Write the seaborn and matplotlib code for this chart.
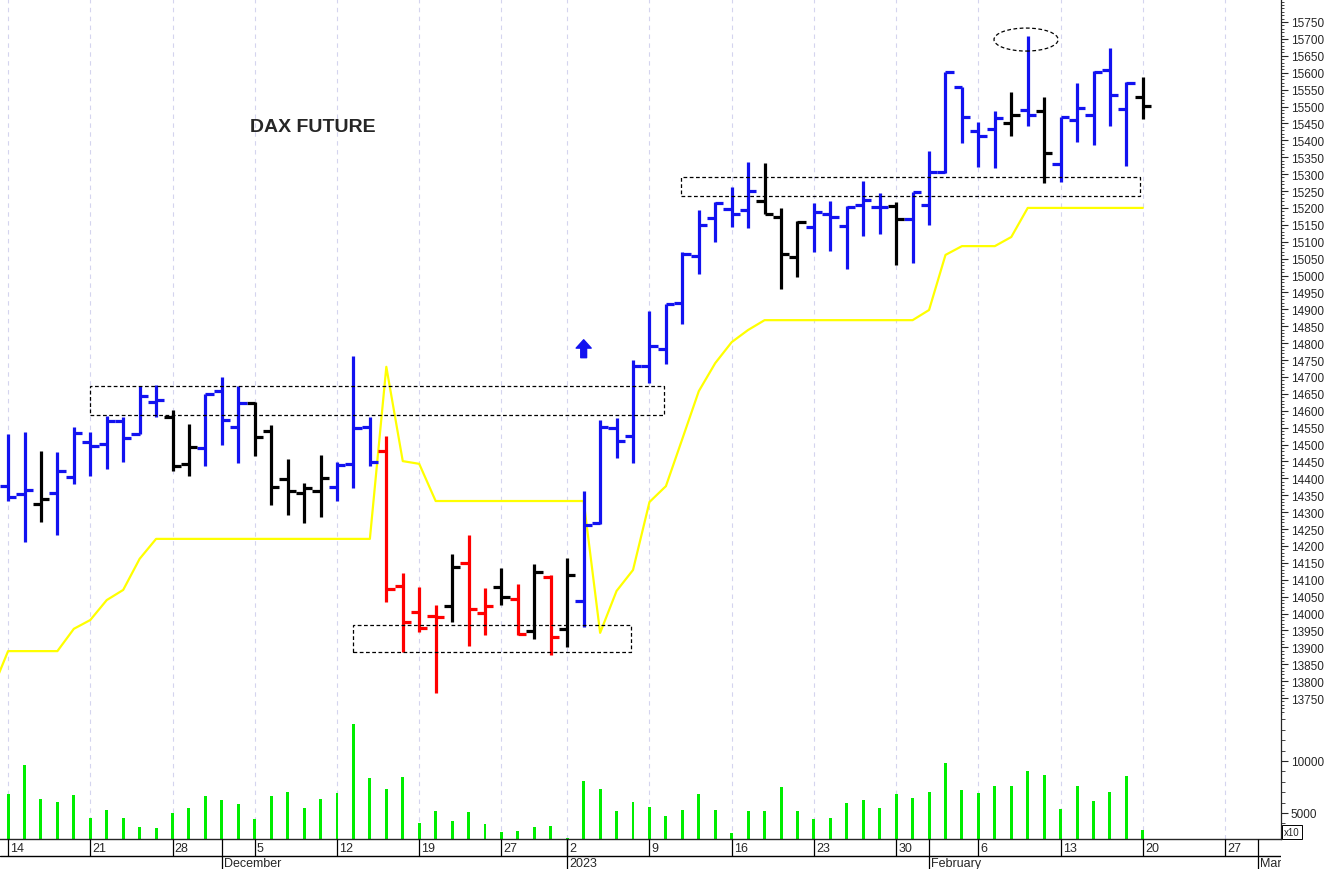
import numpy as np
import pandas as pd
import matplotlib
matplotlib.use("Agg")
import matplotlib.pyplot as plt
import seaborn as sns
from matplotlib.patches import Rectangle, Ellipse
from matplotlib.ticker import FixedLocator

# ------------------------------------------------------------
# Data (DAX future, daily bars 14 Nov 2022 - 20 Feb 2023)
# ------------------------------------------------------------
opens = [14377, 14354, 14324, 14357, 14404, 14508, 14502, 14570, 14531, 14626,
         14582, 14443, 14490, 14658, 14552, 14623, 14540, 14398, 14357, 14363,
         14374, 14443, 14552, 14481, 14082, 14005, 13993, 14022, 14150, 14002,
         14079, 14043, 13949, 14108, 13955, 14037, 14268, 14549, 14525, 14732,
         14783, 14919, 15058, 15170, 15197, 15194, 15220, 15173, 15055, 15144,
         15182, 15147, 15209, 15203, 15206, 15167, 15209, 15306, 15558, 15428,
         15433, 15451, 15490, 15487, 15330, 15460, 15475, 15608, 15493, 15528]
highs = [14531, 14537, 14481, 14478, 14552, 14537, 14584, 14582, 14673, 14676,
         14602, 14561, 14650, 14700, 14673, 14626, 14558, 14457, 14386, 14469,
         14448, 14762, 14582, 14525, 14120, 14079, 14025, 14176, 14232, 14076,
         14135, 14088, 14147, 14114, 14165, 14363, 14573, 14579, 14750, 14895,
         14916, 15070, 15194, 15217, 15262, 15336, 15333, 15200, 15161, 15215,
         15220, 15206, 15280, 15244, 15217, 15247, 15368, 15602, 15558, 15454,
         15487, 15543, 15709, 15528, 15469, 15570, 15605, 15673, 15573, 15587]
lows = [14333, 14212, 14271, 14232, 14383, 14407, 14428, 14448, 14531, 14582,
        14422, 14407, 14437, 14499, 14446, 14466, 14321, 14292, 14268, 14286,
        14333, 14372, 14437, 14034, 13886, 13946, 13765, 13975, 13904, 13937,
        14025, 13937, 13925, 13878, 13901, 13960, 14265, 14460, 14446, 14682,
        14738, 14857, 15004, 15099, 15144, 15141, 15182, 14960, 14996, 15070,
        15073, 15019, 15117, 15123, 15031, 15037, 15150, 15303, 15392, 15321,
        15318, 15413, 15442, 15274, 15277, 15395, 15386, 15442, 15324, 15463]
closes = [14345, 14366, 14339, 14422, 14534, 14496, 14570, 14519, 14644, 14632,
          14437, 14493, 14650, 14573, 14623, 14522, 14374, 14363, 14372, 14401,
          14440, 14549, 14448, 14073, 13975, 13957, 13990, 14138, 14014, 14022,
          14049, 13940, 14123, 13931, 14114, 14262, 14552, 14511, 14732, 14792,
          14916, 15064, 15150, 15215, 15182, 15250, 15182, 15064, 15158, 15188,
          15173, 15203, 15223, 15203, 15167, 15247, 15306, 15602, 15469, 15413,
          15466, 15475, 15475, 15362, 15469, 15496, 15602, 15534, 15570, 15502]
# trend colour of each bar: b = up, k = neutral, r = down
trend = list("bbkbbbbbbb" "kkbbbkkkkk" "bbbrrrrkrr" "krkrkbbbbb" "bbbbbbkkkb"
             "bbbbkbbbbb" "bkbkbbbbbk")
# volume (x10 contracts)
volume = [6830, 9600, 6350, 6060, 6730, 4520, 5290, 4520, 3650, 3560,
          5000, 5480, 6630, 6250, 5870, 4420, 6630, 7020, 5480, 6350,
          6920, 13560, 8370, 7310, 8460, 4040, 5190, 4230, 5100, 3940,
          3170, 3270, 3650, 3750, 2600, 8080, 7310, 5190, 6060, 5580,
          4710, 5290, 6830, 5290, 3080, 5190, 5190, 7500, 5190, 4420,
          4520, 5960, 6250, 5480, 6830, 6440, 7020, 9810, 7210, 6920,
          7600, 7600, 9040, 8650, 5380, 7600, 6150, 7020, 8560, 3370]
# trailing stop line (starts one session earlier, 11 Nov)
stop = [13770, 13889, 13889, 13889, 13889, 13955, 13981, 14040, 14070, 14162,
        14221, 14221, 14221, 14221, 14221, 14221, 14221, 14221, 14221, 14221,
        14221, 14221, 14221, 14221, 14730, 14451, 14443, 14333, 14333, 14333,
        14333, 14333, 14333, 14333, 14333, 14333, 14333, 13943, 14067, 14129,
        14330, 14377, 14517, 14658, 14741, 14803, 14839, 14868, 14868, 14868,
        14868, 14868, 14868, 14868, 14868, 14868, 14868, 14898, 15061, 15087,
        15087, 15087, 15114, 15200, 15200, 15200, 15200, 15200, 15200, 15200,
        15200]

# trading calendar (26 Dec closed)
days = pd.bdate_range("2022-11-11", "2023-03-03")
days = days[~days.isin(pd.to_datetime(["2022-12-26"]))]
pos = np.arange(len(days)) - 1          # 14 Nov -> 0
bar_x = pos[1:1 + len(opens)]
stop_x = pos[:len(stop)]

# annotation zones: (first bar, last bar, low, high)
zones = [(5.0, 39.9, 14588, 14673),
         (21.0, 37.9, 13886, 13966),
         (40.9, 68.8, 15235, 15291)]

# ------------------------------------------------------------
# Style
# ------------------------------------------------------------
sns.set_style("white")
plt.rcParams["font.family"] = ["Liberation Sans", "DejaVu Sans"]

BLUE, RED, BLACK = "#1212f0", "#ff0000", "#000000"
cmap = {"b": BLUE, "r": RED, "k": BLACK}
bar_cols = [cmap[t] for t in trend]
GRID = "#d4d4ee"

W, H = 1328, 870
fig = plt.figure(figsize=(W / 100, H / 100), dpi=100)
right = 1281 / W
ax = fig.add_axes([0, 1 - 715 / H, right, 715 / H])
axv = fig.add_axes([0, 30 / H, right, 125 / H])
axs = fig.add_axes([0, 0, right, 30 / H])

xlim = (-0.49, 77.4)

# week / month ticks
week = days.to_period("W")
first_of_week = np.r_[True, week[1:] != week[:-1]] & (pos >= 0)
month_start = np.r_[False, days.month[1:] != days.month[:-1]]

# ------------------------------------------------------------
# Price panel
# ------------------------------------------------------------
for xw in pos[first_of_week]:
    ax.axvline(xw, color=GRID, lw=0.8, ls=(0, (4, 4)), zorder=0)
    axv.axvline(xw, color=GRID, lw=0.8, ls=(0, (4, 4)), zorder=0)

sns.lineplot(x=stop_x, y=stop, ax=ax, color="#ffff00", lw=1.6, zorder=2)

ax.vlines(bar_x, lows, highs, colors=bar_cols, lw=2.3, zorder=3)
ax.hlines(opens, bar_x - 0.5, bar_x, colors=bar_cols, lw=2.3, zorder=3)
ax.hlines(closes, bar_x, bar_x + 0.5, colors=bar_cols, lw=2.3, zorder=3)

for x0, x1, y0, y1 in zones:
    ax.add_patch(Rectangle((x0, y0), x1 - x0, y1 - y0, fill=False,
                           ec="black", lw=0.9, ls=(0, (3, 2)), zorder=4))
ax.add_patch(Ellipse((61.9, 15698), 3.9, 68, fill=False, ec="black",
                     lw=0.9, ls=(0, (3, 2)), zorder=4))

ax.annotate("", xy=(35, 14810), xytext=(35, 14757),
            arrowprops=dict(arrowstyle="simple,head_length=0.5,head_width=0.9,tail_width=0.35",
                            color=BLUE, shrinkA=0, shrinkB=0, mutation_scale=12))

ax.text(250 / 1281, 1 - 128 / 715, "DAX FUTURE", transform=ax.transAxes,
        fontsize=14, fontweight="bold", ha="left", va="center")

ax.set_xlim(*xlim)
ax.set_ylim(13703, 15818)
ax.yaxis.tick_right()
ax.yaxis.set_major_locator(FixedLocator(np.arange(13750, 15751, 50)))
ax.yaxis.set_minor_locator(FixedLocator(np.arange(13710, 15820, 10)))
ax.tick_params(axis="y", which="major", length=5, width=0.8, direction="out",
               labelsize=8.5, pad=2, right=True, left=False)
ax.tick_params(axis="y", which="minor", length=2.5, width=0.6, direction="out",
               right=True, left=False)
ax.set_xticks([])
ax.set_xlabel("")
ax.set_ylabel("")
for s in ["left", "top", "bottom"]:
    ax.spines[s].set_visible(False)
ax.spines["right"].set_linewidth(0.9)

# ------------------------------------------------------------
# Volume panel
# ------------------------------------------------------------
sns.barplot(x=bar_x, y=volume, native_scale=True, width=0.18, color="#00ee00",
            saturation=1, errorbar=None, linewidth=0, ax=axv)
axv.set_xlim(*xlim)
axv.set_ylim(2500, 14519)
axv.yaxis.tick_right()
axv.yaxis.set_major_locator(FixedLocator([5000, 10000]))
axv.yaxis.set_minor_locator(FixedLocator(np.arange(3000, 14001, 1000)))
axv.tick_params(axis="y", which="major", length=5, width=0.8, direction="out",
                labelsize=8.5, pad=2, right=True, left=False)
axv.tick_params(axis="y", which="minor", length=3, width=0.6, direction="out",
                right=True, left=False)
axv.set_xticks([])
axv.set_xlabel("")
axv.set_ylabel("")
for s in ["left", "top"]:
    axv.spines[s].set_visible(False)
axv.spines["right"].set_linewidth(0.9)
axv.spines["bottom"].set_linewidth(1.0)

fig.text(1284 / W, 1 - 833 / H, "x10", fontsize=7, ha="left", va="center",
         bbox=dict(boxstyle="square,pad=0.2", fc="white", ec="black", lw=0.7))

# ------------------------------------------------------------
# Date strip
# ------------------------------------------------------------
axs.set_xlim(*xlim)
axs.set_ylim(0, 1)
axs.axis("off")
axs.axhline(0.433, color="black", lw=1.0)
for xw, d in zip(pos[first_of_week], days[first_of_week]):
    axs.vlines(xw, 0.433, 1, color="black", lw=0.9)
    axs.text(xw + 0.12, 0.71, str(d.day), fontsize=9, ha="left", va="center",
             clip_on=True)
for xm, d in zip(pos[month_start], days[month_start]):
    label = str(d.year) if d.month == 1 else d.strftime("%B")
    axs.vlines(xm, 0, 1, color="black", lw=0.9)
    axs.text(xm + 0.12, 0.2, label, fontsize=9, ha="left", va="center",
             clip_on=True)

fig.savefig("out.png", dpi=100)
